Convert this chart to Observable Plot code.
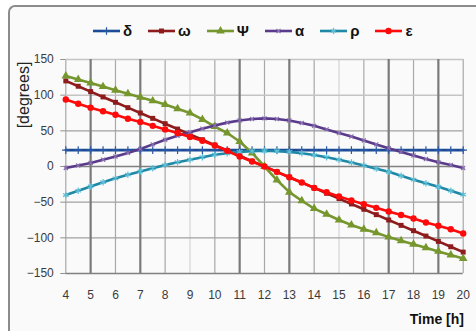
<!DOCTYPE html>
<html>
<head>
<meta charset="utf-8">
<script src="https://cdn.jsdelivr.net/npm/d3@7"></script>
<script src="https://cdn.jsdelivr.net/npm/@observablehq/plot@0.6"></script>
<style>
  html, body { margin: 0; padding: 0; background: #fff; }
  #wrap { position: relative; width: 476px; height: 331px; overflow: hidden; background: #fff; font-family: "Liberation Sans", Arial, sans-serif; }
  #frame { position: absolute; left: 8px; top: 5px; width: 480px; height: 340px; background: #fafafa; border-left: 2px solid #8c8c8c; border-top: 2px solid #8c8c8c; border-top-left-radius: 7px; box-sizing: border-box; }
  #chart { position: absolute; left: 0; top: 0; }
  #legend { position: absolute; left: 93px; top: 22px; display: flex; align-items: center; gap: 16px; font-weight: bold; font-size: 15px; color: #111; }
  .item { display: flex; align-items: center; gap: 3px; }
  #ylabel { position: absolute; left: 24px; top: 95px; transform: translate(-50%, -50%) rotate(-90deg); font-size: 16px; color: #222; white-space: nowrap; }
  #xlabel { position: absolute; right: 12px; top: 311px; font-size: 14px; font-weight: bold; color: #111; white-space: nowrap; }
</style>
</head>
<body>
<div id="wrap">
  <div id="frame"></div>
  <div id="chart"></div>
  <div id="legend"></div>
  <div id="ylabel">[degrees]</div>
  <div id="xlabel">Time [h]</div>
</div>
<script>
const hours = [4,4.5,5,5.5,6,6.5,7,7.5,8,8.5,9,9.5,10,10.5,11,11.5,12,12.5,13,13.5,14,14.5,15,15.5,16,16.5,17,17.5,18,18.5,19,19.5,20];
const delta = [23,23,23,23,23,23,23,23,23,23,23,23,23,23,23,23,23,23,23,23,23,23,23,23,23,23,23,23,23,23,23,23,23];
const omega = [120,112.5,105,97.5,90,82.5,75,67.5,60,52.5,45,37.5,30,22.5,15,7.5,0,-7.5,-15,-22.5,-30,-37.5,-45,-52.5,-60,-67.5,-75,-82.5,-90,-97.5,-105,-112.5,-120];
const psi = [127,122,117,112,107,102,97,92,87,81,75,66,56,47,35,19,0,-19,-36,-48,-59,-67,-75,-82,-88,-93,-99,-104,-109,-114,-119,-124,-129];
const alpha = [-2,1.5,5,9.5,14,19,24.5,31,37.5,43,48,53,57.5,61.5,64.5,66.5,67.5,66.5,64.5,61,57,52,47,42,36.5,31,25.5,20.5,15.5,10.5,6,2,-2];
const rho = [-40,-34,-28,-22,-16.5,-11.5,-7,-2.5,2,6,9.5,13,16.5,18.5,20.5,21.5,22,21.5,20.5,18.5,16,13,9.5,5.5,1.5,-3,-7.5,-13,-18.5,-23.5,-28.5,-34,-39.5];
const epsilon = [94,88,82.5,77.5,72.5,67,62.5,57,52,47,41.5,36,29.5,22,14,7,0,-7.5,-15,-22.5,-30,-36,-42,-47.5,-53,-58,-63,-68,-73,-78.5,-83,-88,-94];

const seriesNames = ["δ","ω","Ψ","α","ρ","ε"];
const xTicks = [4,5,6,7,8,9,10,11,12,13,14,15,16,17,18,19,20];
const yTicks = [-150,-100,-50,0,50,100,150];

const styles = {
  "δ": {color: "#1b4b96", marker: "#2a5aa6", symbol: "plus", r: 2.6, stroked: true},
  "ω": {color: "#8e1c1c", marker: "#8e1c1c", symbol: "square", r: 2.8, stroked: false},
  "Ψ": {color: "#76962e", marker: "#76962e", symbol: "triangle", r: 3.2, stroked: false},
  "α": {color: "#5a3a8a", marker: "#8a70b0", symbol: "times", r: 2.0, stroked: true},
  "ρ": {color: "#1f88a6", marker: "#5fbfd6", symbol: "asterisk", r: 3.0, stroked: true},
  "ε": {color: "#ff0a0a", marker: "#ff0a0a", symbol: "circle", r: 3.2, stroked: false}
};
const valuesByName = {"δ": delta, "ω": omega, "Ψ": psi, "α": alpha, "ρ": rho, "ε": epsilon};

const rows = seriesNames.map(k => hours.map((h, i) => ({h, v: valuesByName[k][i], k})));

const xDark = [5,7,11,13,17,19], xMed = [4,6,8,10,12,14,16,18,20], xLight = [9,15];
const yDark = [0,-150], yMed = [50,-50,-100], yLight = [100,150];

const marks = [
  Plot.ruleX(xLight, {stroke: "#dcdcdc", strokeWidth: 1.5}),
  Plot.ruleX(xMed, {stroke: "#a8a8a8", strokeWidth: 1.2}),
  Plot.ruleY(yLight, {stroke: "#c4c4c4", strokeWidth: 1.5}),
  Plot.ruleY(yMed, {stroke: "#a0a0a0", strokeWidth: 1.2}),
  Plot.ruleY(yDark, {stroke: "#808080", strokeWidth: 1.4}),
  Plot.ruleX(xDark, {stroke: "#7a7a7a", strokeWidth: 2.2}),
  Plot.axisY({ticks: yTicks, tickSize: 5, tickPadding: 7, stroke: "#909090", fill: "#3a3a3a", fontSize: 12, label: null}),
  Plot.axisX({ticks: xTicks, tickSize: 0, tickPadding: 17, fill: "#3a3a3a", fontSize: 12, label: null})
];
rows.forEach(data => {
  const s = styles[data[0].k];
  marks.push(Plot.line(data, {x: "h", y: "v", stroke: s.color, strokeWidth: 2.6}));
  if (s.stroked) {
    marks.push(Plot.dot(data, {x: "h", y: "v", symbol: s.symbol, r: s.r, stroke: s.marker, strokeWidth: 1.2, fill: "none"}));
  } else {
    marks.push(Plot.dot(data, {x: "h", y: "v", symbol: s.symbol, r: s.r, fill: s.marker, stroke: "none"}));
  }
});

const chart = Plot.plot({
  width: 476,
  height: 331,
  marginLeft: 65.3,
  marginRight: 13.3,
  marginTop: 59,
  marginBottom: 58,
  style: {background: "transparent", fontFamily: "Liberation Sans, Arial, sans-serif", fontSize: "12px"},
  x: {domain: [4, 20]},
  y: {domain: [-150, 150]},
  marks
});
document.getElementById("chart").appendChild(chart);

// legend
const symMap = {plus: d3.symbolPlus, square: d3.symbolSquare, triangle: d3.symbolTriangle, times: d3.symbolTimes, asterisk: d3.symbolAsterisk, circle: d3.symbolCircle};
const legend = document.getElementById("legend");
seriesNames.forEach(k => {
  const s = styles[k];
  const item = document.createElement("div");
  item.className = "item";
  const path = d3.symbol(symMap[s.symbol], Math.PI * s.r * s.r)();
  const markerAttrs = s.stroked ? `fill="none" stroke="${s.marker}" stroke-width="1.2"` : `fill="${s.marker}"`;
  item.innerHTML = `<svg width="27" height="10" style="display:block"><line x1="0" x2="27" y1="5" y2="5" stroke="${s.color}" stroke-width="2.6"/><path transform="translate(13.5,5)" d="${path}" ${markerAttrs}/></svg><span>${k}</span>`;
  legend.appendChild(item);
});
</script>
</body>
</html>
